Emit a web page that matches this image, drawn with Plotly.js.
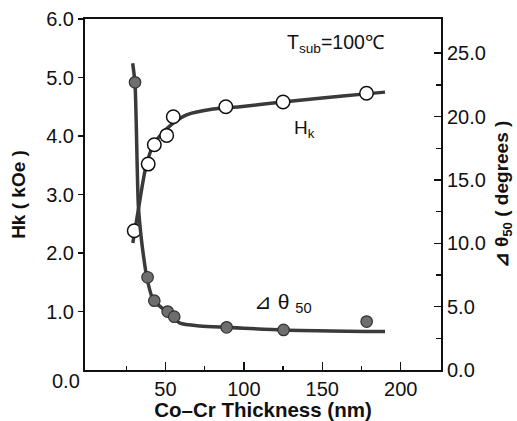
<!DOCTYPE html>
<html>
<head>
<meta charset="utf-8">
<script src="https://cdn.plot.ly/plotly-3.0.1.min.js"></script>
<style>html,body{margin:0;padding:0;background:#fff;}#chart{width:517px;height:421px;}</style>
</head>
<body>
<div id="chart"></div>
<script>
// Hk measured points (kOe)
const hkX = [30.1, 39.0, 42.9, 50.8, 55.0, 88.5, 125.0, 178.2];
const hkY = [2.38, 3.52, 3.85, 4.01, 4.33, 4.50, 4.58, 4.73];
// Hk fitted curve
const hkCurveX = [29.2, 32.7, 37.6, 42.3, 48, 54, 63.5, 80.5, 97.6, 124.5, 150, 177.7, 190];
const hkCurveY = [2.17, 2.74, 3.48, 3.85, 4.05, 4.2, 4.36, 4.46, 4.50, 4.58, 4.65, 4.72, 4.75];
// delta theta50 measured points (degrees)
const dtX = [30.6, 38.6, 42.9, 51.4, 55.6, 89.0, 125.3, 178.3];
const dtY = [22.7, 7.32, 5.47, 4.61, 4.21, 3.37, 3.16, 3.82];
// delta theta50 fitted curve
const dtCurveX = [29.1, 30.6, 32.7, 34.5, 36.0, 38.1, 42.3, 50.8, 59.3, 72, 88.4, 124.7, 190];
const dtCurveY = [24.2, 22.6, 13.0, 10.5, 9.0, 7.3, 5.5, 4.6, 3.7, 3.48, 3.37, 3.16, 3.03];

const xTickVals = [50, 100, 150, 200];
const xTickText = ["50", "100", "150", "200"];
const xMinorVals = [25, 75, 125, 175];
const yTickVals = [1, 2, 3, 4, 5, 6];
const yTickText = ["1.0", "2.0", "3.0", "4.0", "5.0", "6.0"];
const y2TickVals = [0, 5, 10, 15, 20, 25];
const y2TickText = ["0.0", "5.0", "10.0", "15.0", "20.0", "25.0"];
const y2MinorVals = [2.5, 7.5, 12.5, 17.5, 22.5];
const cornerLabel = "0.0";

const lineColor = '#3a3a3a';
const ink = '#111';
const font = 'Liberation Sans, Arial, sans-serif';

const traces = [
  {x: hkCurveX, y: hkCurveY, mode: 'lines', line: {color: lineColor, width: 3.5, shape: 'spline', smoothing: 0.8}, yaxis: 'y', hoverinfo: 'skip'},
  {x: dtCurveX, y: dtCurveY, mode: 'lines', line: {color: lineColor, width: 3.5, shape: 'spline', smoothing: 0.6}, yaxis: 'y2', hoverinfo: 'skip'},
  {x: hkX, y: hkY, mode: 'markers', marker: {symbol: 'circle', size: 13.5, color: '#ffffff', line: {color: ink, width: 1.5}}, yaxis: 'y'},
  {x: dtX, y: dtY, mode: 'markers', marker: {symbol: 'circle', size: 11.5, color: '#6e6e6e', line: {color: '#333', width: 1.2}}, yaxis: 'y2'}
];

const tickFont = {family: font, size: 20, color: ink};
const titleFont = {family: font, size: 19, color: ink};

const layout = {
  width: 517, height: 421,
  margin: {l: 85, r: 76, t: 19, b: 51},
  paper_bgcolor: '#fff', plot_bgcolor: '#fff',
  showlegend: false,
  font: {family: font, size: 19, color: ink},
  xaxis: {
    range: [-1.3, 225.7], showgrid: false, zeroline: false,
    showline: true, linecolor: ink, linewidth: 2, mirror: true,
    ticks: 'inside', ticklen: 8, tickwidth: 1.5, tickcolor: ink,
    tickvals: xTickVals, ticktext: xTickText, tickfont: tickFont,
    minor: {tickvals: xMinorVals, ticks: 'inside', ticklen: 4, tickwidth: 1.5, tickcolor: ink, showgrid: false},
    title: {text: '<b>Co–Cr Thickness (nm)</b>', font: {family: font, size: 20.5, color: ink}, standoff: 5}
  },
  yaxis: {
    range: [0, 6], showgrid: false, zeroline: false,
    showline: true, linecolor: ink, linewidth: 2,
    ticks: 'outside', ticklen: 5, tickwidth: 1.5, tickcolor: ink,
    tickvals: yTickVals, ticktext: yTickText, tickfont: tickFont,
    title: {text: '<b>Hk ( kOe )</b>', font: titleFont, standoff: 16}
  },
  yaxis2: {
    range: [0, 27.7], overlaying: 'y', side: 'right', showgrid: false, zeroline: false,
    showline: true, linecolor: ink, linewidth: 2,
    ticks: 'inside', ticklen: 7, tickwidth: 1.5, tickcolor: ink,
    tickvals: y2TickVals, ticktext: y2TickText, tickfont: tickFont,
    minor: {tickvals: y2MinorVals, ticks: 'inside', ticklen: 5, tickwidth: 1.5, tickcolor: ink, showgrid: false},
    title: {text: '<b>⊿ θ<sub>50</sub> ( degrees )</b>', font: titleFont, standoff: 10}
  },
  annotations: [
    {x: 0, y: -0.03, xref: 'paper', yref: 'paper', xanchor: 'right', yanchor: 'middle', xshift: -3, text: cornerLabel, showarrow: false, font: tickFont},
    {x: 126, y: 5.58, xref: 'x', yref: 'y', xanchor: 'left', yanchor: 'middle', text: 'T<sub>sub</sub>=100℃', showarrow: false, font: {family: font, size: 19.5, color: ink}},
    {x: 131, y: 4.12, xref: 'x', yref: 'y', xanchor: 'left', yanchor: 'middle', text: 'H<sub>k</sub>', showarrow: false, font: {family: font, size: 19, color: ink}},
    {x: 105, y: 1.15, xref: 'x', yref: 'y', xanchor: 'left', yanchor: 'middle', text: '⊿ θ <sub>50</sub>', showarrow: false, font: {family: font, size: 21, color: ink}}
  ]
};

Plotly.newPlot('chart', traces, layout, {staticPlot: true, displayModeBar: false});
</script>
</body>
</html>
